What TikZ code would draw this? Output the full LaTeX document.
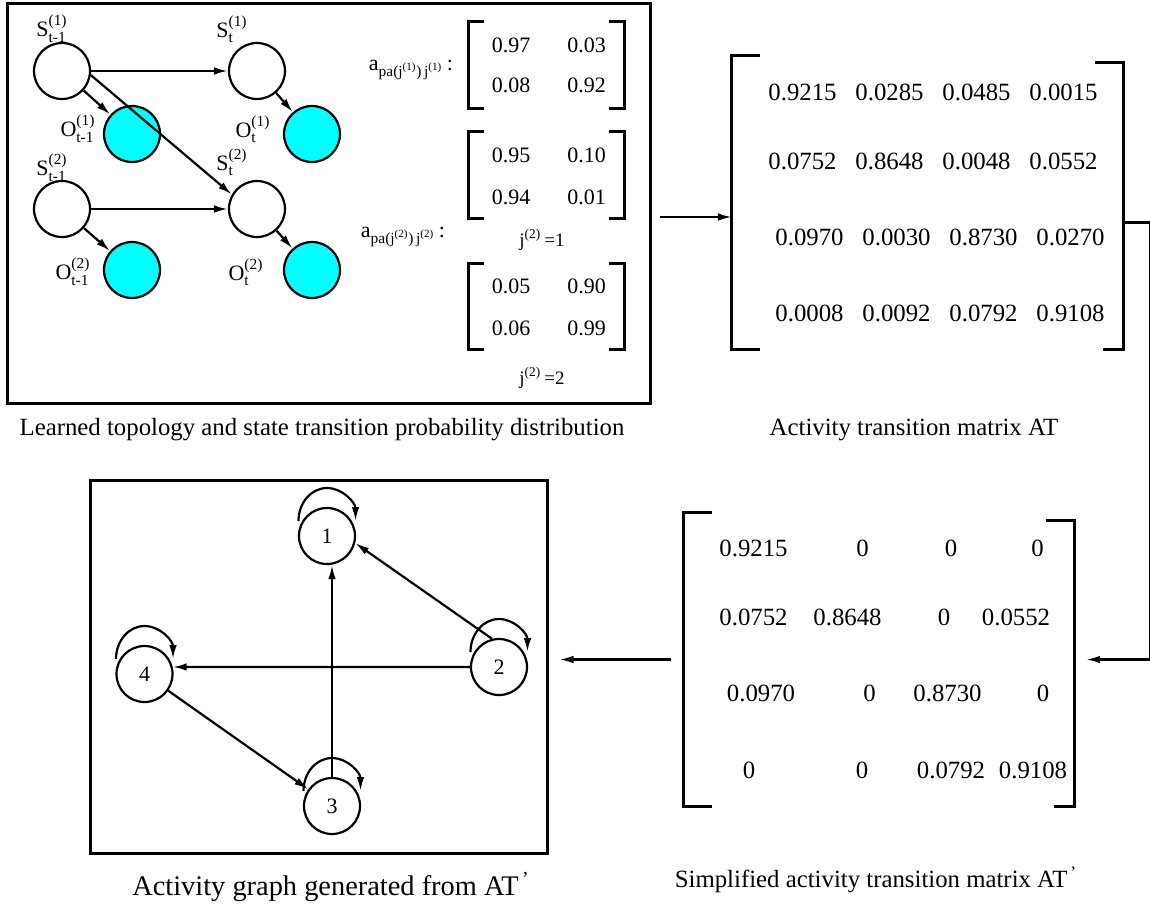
\documentclass[tikz,border=0pt]{standalone}
\usepackage{amsmath}
\usepackage{fontspec}
\setmainfont{Liberation Serif}
\usetikzlibrary{arrows,arrows.meta,calc,positioning}
\definecolor{obscyan}{RGB}{0,255,255}
\tikzstyle{box}=[rectangle, draw, line width=1.5pt, inner sep=0pt]
\tikzstyle{mat}=[rectangle, inner sep=0pt]
\tikzstyle{brack}=[line width=1.5pt]
\tikzstyle{state}=[circle, draw, line width=1.1pt, minimum size=28pt, inner sep=0pt]
\tikzstyle{obs}=[state, fill=obscyan]
\tikzstyle{act}=[circle, draw, line width=1.1pt, minimum size=28pt, inner sep=0pt, font=\fontsize{11}{13}\selectfont]
\tikzstyle{lbl}=[inner sep=0pt, font=\fontsize{11}{13}\selectfont]
\tikzstyle{jlbl}=[inner sep=0pt, font=\fontsize{9.5}{11}\selectfont]
\tikzstyle{pnum}=[inner sep=0pt, font=\fontsize{11}{13}\selectfont]
\tikzstyle{num}=[inner sep=0pt, font=\fontsize{12.4}{14}\selectfont]
\tikzstyle{captxt}=[inner sep=0pt, font=\fontsize{12.4}{14}\selectfont]
\tikzstyle{captxtl}=[inner sep=0pt, font=\fontsize{14.2}{16}\selectfont]
% brackets round a matrix node: node, arm, drop of right top, right bottom arm
\newcommand{\brk}[4]{%
  \draw[brack] ([xshift=#2]#1.north west) -- (#1.north west) -- (#1.south west) -- ([xshift=#2]#1.south west);
  \draw[brack] ([xshift=-#2,yshift=-#3]#1.north east) -- ([yshift=-#3]#1.north east) -- (#1.south east) -- ([xshift=-#4]#1.south east);}

\begin{document}
\begin{tikzpicture}[x=0.5pt,y=0.5pt,>={Latex[length=7pt,width=3.8pt]},line width=1.1pt]
	\useasboundingbox (0,0) rectangle (1150,-907);
	
	% learned topology
	\node[box,minimum width=321.5pt,minimum height=200pt] (topo) at (328.5,-203) {};
	\node[state] (s1p) at (62,-71) {};
	\node[state] (s1) at (257,-71) {};
	\node[obs] (o1p) at (132,-134) {};
	\node[obs] (o1) at (312,-134) {};
	\node[state] (s2p) at (62,-209) {};
	\node[state] (s2) at (257,-209) {};
	\node[obs] (o2p) at (132,-270) {};
	\node[obs] (o2) at (312,-270) {};
	
	\node[lbl] (s1pl) at (52,-29) {$\text{S}^{\text{(1)}}_{\text{t-1}}$};
	\node[lbl] (s1l) at (232,-29) {$\text{S}^{\text{(1)}}_{\text{t}}$};
	\node[lbl] (o1pl) at (78,-129) {$\text{O}^{\text{(1)}}_{\text{t-1}}$};
	\node[lbl] (o1l) at (253,-129) {$\text{O}^{\text{(1)}}_{\text{t}}$};
	\node[lbl] (s2pl) at (52,-168) {$\text{S}^{\text{(2)}}_{\text{t-1}}$};
	\node[lbl] (s2l) at (232,-162) {$\text{S}^{\text{(2)}}_{\text{t}}$};
	\node[lbl] (o2pl) at (73,-272) {$\text{O}^{\text{(2)}}_{\text{t-1}}$};
	\node[lbl] (o2l) at (246,-272) {$\text{O}^{\text{(2)}}_{\text{t}}$};
	
	\draw[->] (s1p) -- (s1);
	\draw[->] (s1p) -- (o1p);
	\draw[->] (s1p.-8) -- (s2.150);
	\draw[->] (s1) -- (o1);
	\draw[->] (s2p) -- (s2);
	\draw[->] (s2p) -- (o2p);
	\draw[->] (s2) -- (o2);
	
	% conditional probability tables
	\node[lbl] (a1) at (411,-70) {$\text{a}_{\text{pa(j}^{\text{(1)}}\text{)\,j}^{\text{(1)}}}$\,:};
	\node[lbl] (a2) at (403,-237) {$\text{a}_{\text{pa(j}^{\text{(2)}}\text{)\,j}^{\text{(2)}}}$\,:};
	\node[mat,minimum width=76.5pt,minimum height=42pt] (pm1) at (546.5,-65) {};
	\node[mat,minimum width=76.5pt,minimum height=42pt] (pm2) at (546.5,-175) {};
	\node[mat,minimum width=76.5pt,minimum height=41.5pt] (pm3) at (546.5,-306.5) {};
	\brk{pm1}{7.5pt}{0pt}{7.5pt}
	\brk{pm2}{7.5pt}{0pt}{7.5pt}
	\brk{pm3}{7.5pt}{0pt}{7.5pt}
	\foreach \m/\ya/\yb/\a/\b/\c/\d in {1/45/85/0.97/0.03/0.08/0.92, 2/155/197/0.95/0.10/0.94/0.01, 3/286/328/0.05/0.90/0.06/0.99}{
		\node[pnum] (p\m a) at (511,-\ya) {\a};
		\node[pnum] (p\m b) at (586.5,-\ya) {\b};
		\node[pnum] (p\m c) at (511,-\yb) {\c};
		\node[pnum] (p\m d) at (586.5,-\yb) {\d};
	}
	\node[jlbl] (j1) at (542,-240) {$\text{j}^{\text{(2)}}$\,=1};
	\node[jlbl] (j2) at (542,-378) {$\text{j}^{\text{(2)}}$\,=2};
	\node[captxt] (cap1) at (322,-430) {Learned topology and state transition probability distribution};
	
	% activity transition matrix
	\node[mat,minimum width=194.5pt,minimum height=145.5pt] (atm) at (927.5,-202.5) {};
	\brk{atm}{14pt}{3.5pt}{10pt}
	\foreach \r/\y/\dx/\a/\b/\c/\d in {1/92/0/0.9215/0.0285/0.0485/0.0015, 2/161/0/0.0752/0.8648/0.0048/0.0552, 3/237/7/0.0970/0.0030/0.8730/0.0270, 4/313/7/0.0008/0.0092/0.0792/0.9108}{
		\node[num] (at\r a) at (802.5+\dx,-\y) {\a};
		\node[num] (at\r b) at (889.5+\dx,-\y) {\b};
		\node[num] (at\r c) at (976.5+\dx,-\y) {\c};
		\node[num] (at\r d) at (1063.5+\dx,-\y) {\d};
	}
	\node[captxt] (cap2) at (914,-430) {Activity transition matrix AT};
	
	% simplified matrix
	\node[mat,minimum width=194pt,minimum height=145.5pt] (atpm) at (879,-659.5) {};
	\brk{atpm}{14pt}{4pt}{10pt}
	\foreach \x/\y/\v [count=\i] in {753.5/548/0.9215, 862.5/548/0, 951/548/0, 1037.5/548/0,
		753.5/617/0.0752, 847.5/617/0.8648, 944/617/0, 1016/617/0.0552,
		761/693/0.0970, 869.5/693/0, 947.5/693/0.8730, 1043/693/0,
		749/770/0, 862/770/0, 951/770/0.0792, 1033/770/0.9108}
		\node[num] (atp\i) at (\x,-\y) {\v};
	\node[captxt] (cap3) at (876,-880) {Simplified activity transition matrix AT\textsuperscript{\,’}};
	
	% activity graph
	\node[box,minimum width=228.5pt,minimum height=186.5pt] (graph) at (318.5,-666.5) {};
	\node[act] (n1) at (327,-536) {1};
	\node[act] (n2) at (499,-667) {2};
	\node[act] (n3) at (332,-806) {3};
	\node[act] (n4) at (144.5,-674) {4};
	\draw[->] (n2.104) -- (n1.-14);
	\draw[->] (n2.west) -- (n4.14);
	\draw[->] (n3.north) -- (n3.north |- n1.south);
	\draw[->] (n4) -- (n3);
	\foreach \n in {n1,n2,n3,n4}
		\draw[->] ($(\n.center)+(-28.5,15)$) arc[start angle=180,end angle=0,x radius=14.25pt,y radius=16.5pt];
	\node[captxtl] (cap4) at (331,-887) {Activity graph generated from AT\textsuperscript{\,’}};
	
	% links between the parts
	\draw[->] ($(topo.east)+(8,-14)$) -- ($(topo.east -| atm.west)+(0,-14)$);
	\draw[->] ($(atm.east)+(0,-20)$) -- ++(27,0) |- ($(atpm.east)+(12,0)$);
	\draw[->] ($(atpm.west)+(-13,0)$) -- ($(graph.east |- atpm.west)+(11,0)$);
\end{tikzpicture}
\end{document}
